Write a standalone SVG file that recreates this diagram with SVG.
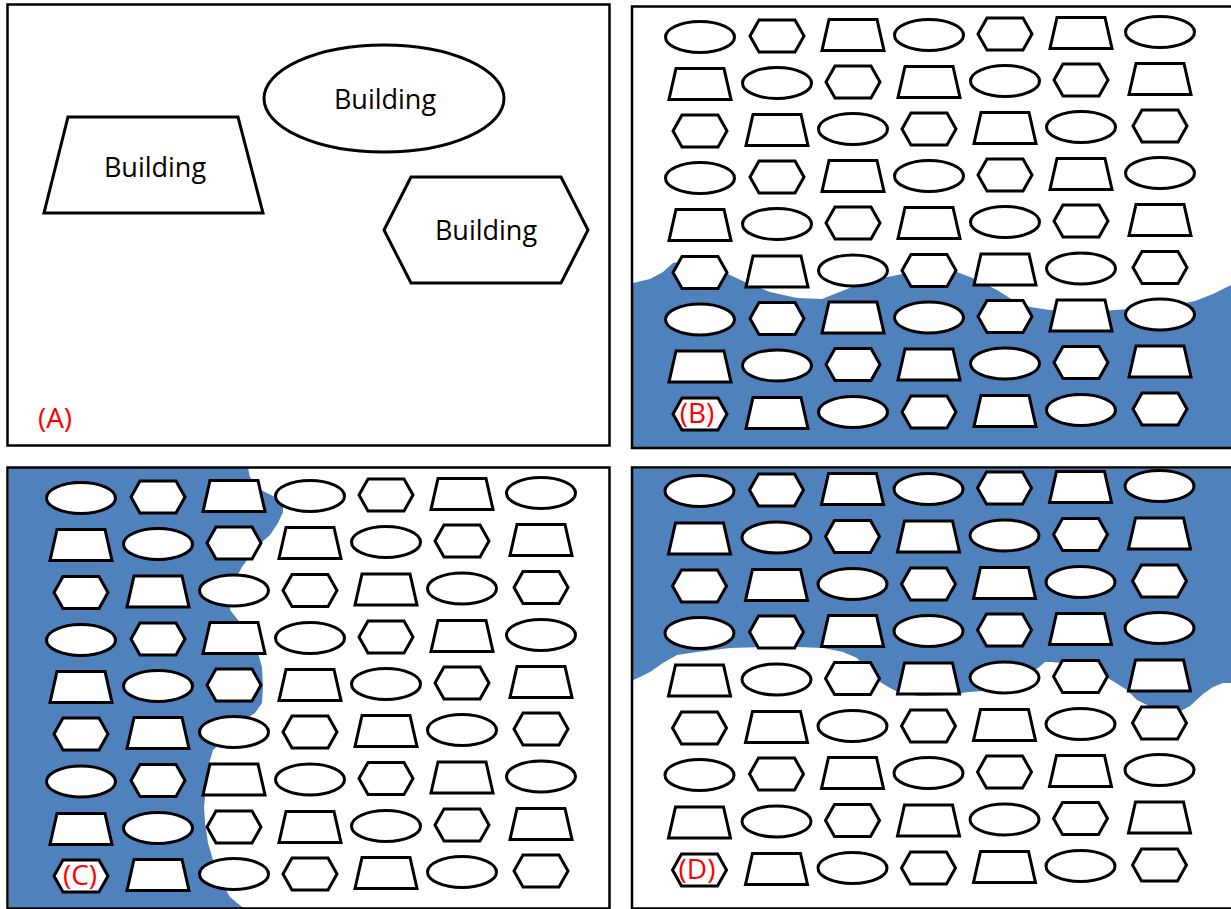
<svg xmlns="http://www.w3.org/2000/svg" xmlns:xlink="http://www.w3.org/1999/xlink" width="1231" height="909" viewBox="0 0 1231 909">
<style>
.bld{fill:#fff;stroke:#000;stroke-width:3;stroke-linejoin:miter}
.frame{fill:none;stroke:#000;stroke-width:2.5}
.water{fill:#4f81bd;stroke:none}
.lbl{font-family:"Open Sans","Liberation Sans",sans-serif;font-size:27px;fill:#000;text-anchor:middle}
.tag{font-family:"Open Sans","Liberation Sans",sans-serif;font-size:28px;fill:#ff0000;text-anchor:middle}
</style>
<defs>
<ellipse id="E" class="bld" cx="0" cy="0" rx="34.5" ry="15.5"/>
<polygon id="H" class="bld" points="-27,0 -18,-16 18,-16 27,0 18,16 -18,16"/>
<polygon id="T" class="bld" points="-24,-15.5 24,-15.5 31,15.5 -31,15.5"/>
<g id="row0">
<use href="#E" x="0" y="0"/><use href="#H" x="77" y="-1"/><use href="#T" x="153" y="-2"/><use href="#E" x="229" y="-2"/><use href="#H" x="305" y="-3"/><use href="#T" x="381" y="-4"/><use href="#E" x="460" y="-5"/>
</g>
<g id="row1">
<use href="#T" x="0" y="0"/><use href="#E" x="77" y="-1"/><use href="#H" x="153" y="-2"/><use href="#T" x="229" y="-2"/><use href="#E" x="305" y="-3"/><use href="#H" x="381" y="-4"/><use href="#T" x="460" y="-5"/>
</g>
<g id="row2">
<use href="#H" x="0" y="0"/><use href="#T" x="77" y="-1"/><use href="#E" x="153" y="-2"/><use href="#H" x="229" y="-2"/><use href="#T" x="305" y="-3"/><use href="#E" x="381" y="-4"/><use href="#H" x="460" y="-5"/>
</g>
</defs>
<rect x="0" y="0" width="1231" height="909" fill="#fff"/>

<!-- Panel A -->
<g id="panelA">
<rect class="frame" x="7.5" y="4.5" width="602" height="441"/>
<g id="buildingA1">
<polygon class="bld" points="68,117 238,117 263,213 44,213"/>
<text class="lbl" x="155" y="177">Building</text>
</g>
<g id="buildingA2">
<ellipse class="bld" cx="384" cy="98.5" rx="120" ry="53.5"/>
<text class="lbl" x="385" y="109">Building</text>
</g>
<g id="buildingA3">
<polygon class="bld" points="384,230 411,177 561,177 588,230 561,283 411,283"/>
<text class="lbl" x="486" y="240">Building</text>
</g>
<text class="tag" x="55" y="428">(A)</text>
</g>

<!-- Panel B -->
<g id="panelB">
<path class="water" d="M633,283 L650,279 L663,272 L673,263 L690,260 L715,266 L730,275 L745,282 L770,292 L797,298 L822,299 L837,293 L857,285 L883,278 L907,273 L930,271 L957,272 L975,279 L997,290 L1013,300 L1030,307 L1050,310 L1100,311 L1130,309 L1165,307 L1195,301 L1213,294 L1231,285 L1231,448 L633,448 Z"/>
<g id="gridB" transform="translate(700,0)">
<use href="#row0" y="37"/>
<use href="#row1" y="84"/>
<use href="#row2" y="131"/>
<use href="#row0" y="178"/>
<use href="#row1" y="225"/>
<use href="#row2" y="272.5"/>
<use href="#row0" y="319.5"/>
<use href="#row1" y="366.5"/>
<use href="#row2" y="414"/>
</g>
<rect class="frame" x="632" y="6.5" width="610" height="441.5"/>
<text class="tag" x="697" y="423">(B)</text>
</g>

<!-- Panel C -->
<g id="panelC">
<path class="water" d="M9,468 L248,468 L250,477 L257,488 L267,493 L277,498 L283,505 L283,512 L278,523 L270,535 L262,542 L252,553 L242,567 L235,580 L230,600 L230,610 L238,620 L248,633 L257,650 L262,667 L263,687 L262,703 L255,713 L240,723 L227,737 L213,750 L208,767 L206,787 L204,807 L205,823 L208,843 L213,860 L220,880 L230,897 L242,907 L245,909 L9,909 Z"/>
<g id="gridC" transform="translate(81,0)">
<use href="#row0" y="498"/>
<use href="#row1" y="545"/>
<use href="#row2" y="592.5"/>
<use href="#row0" y="640"/>
<use href="#row1" y="687"/>
<use href="#row2" y="734"/>
<use href="#row0" y="781.5"/>
<use href="#row1" y="829"/>
<use href="#row2" y="876"/>
</g>
<rect class="frame" x="7.5" y="467.5" width="602" height="441"/>
<text class="tag" x="80" y="885">(C)</text>
</g>

<!-- Panel D -->
<g id="panelD">
<path class="water" d="M633,469 L1231,469 L1231,683 L1223,683 L1213,687 L1203,694 L1190,706 L1177,713 L1157,710 L1137,700 L1127,690 L1108,678 L1080,665 L1052,662 L1045,662 L1038,668 L1000,690 L968,692 L950,695 L920,696 L900,693 L890,688 L880,682 L870,672 L857,658 L843,652 L823,648 L797,647 L763,647 L730,648 L697,652 L677,655 L663,663 L650,672 L638,678 L633,680 Z"/>
<g id="gridD" transform="translate(699.5,0)">
<use href="#row0" y="491"/>
<use href="#row1" y="538.5"/>
<use href="#row2" y="586"/>
<use href="#row0" y="633"/>
<use href="#row1" y="680.5"/>
<use href="#row2" y="728"/>
<use href="#row0" y="775"/>
<use href="#row1" y="822.5"/>
<use href="#row2" y="870"/>
</g>
<rect class="frame" x="632" y="467.5" width="610" height="441"/>
<text class="tag" x="697" y="879">(D)</text>
</g>
</svg>
